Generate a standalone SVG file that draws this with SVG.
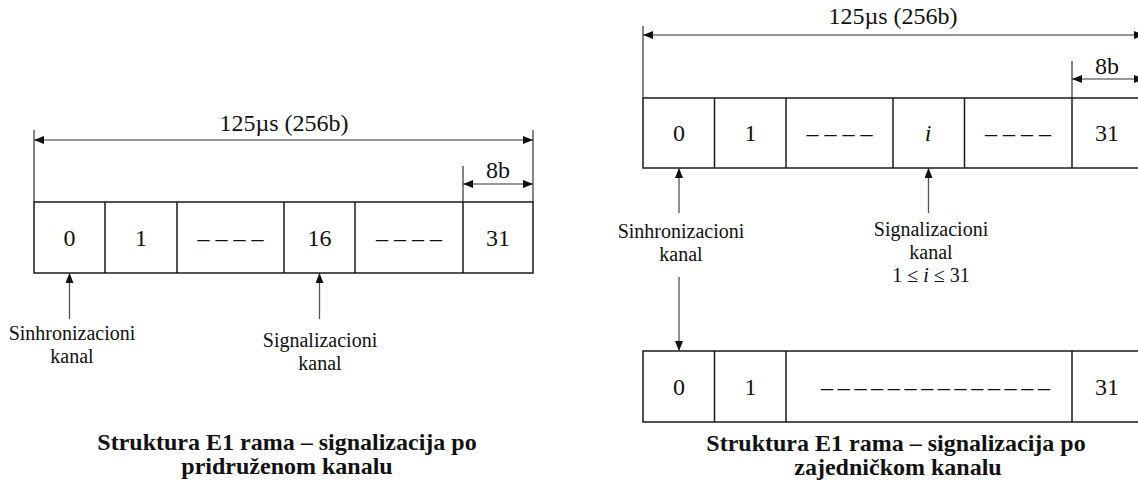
<svg xmlns="http://www.w3.org/2000/svg" width="1138" height="489" viewBox="0 0 1138 489">
  <style>
    .frame { fill: #fff; stroke: #1a1a1a; stroke-width: 1.5; }
    .cell { stroke: #1a1a1a; stroke-width: 1.5; }
    .dim { stroke: #333; stroke-width: 1.2; fill: none; }
    .ptr { stroke: #555; stroke-width: 1.3; fill: none; }
    .num { font-family: "Liberation Serif", "Times New Roman", "DejaVu Serif", serif; font-size: 24px; fill: #111; text-anchor: middle; }
    .lbl { font-family: "Liberation Serif", "Times New Roman", "DejaVu Serif", serif; font-size: 20px; fill: #111; text-anchor: middle; }
    .ttl { font-family: "Liberation Serif", "Times New Roman", "DejaVu Serif", serif; font-size: 24px; font-weight: bold; fill: #111; text-anchor: middle; }
    .it { font-style: italic; }
  </style>
  <defs>
    <marker id="ah" viewBox="0 0 10 8" refX="10" refY="4" markerWidth="10" markerHeight="8" markerUnits="userSpaceOnUse" orient="auto-start-reverse">
      <path d="M0,0 L10,4 L0,8 Z" fill="#111"/>
    </marker>
  </defs>

  <!-- Left: E1 frame with channel-associated signalling -->
  <g id="left-dimensions">
    <line class="dim" x1="34" y1="130" x2="34" y2="202"/>
    <line class="dim" x1="533" y1="130" x2="533" y2="202"/>
    <line class="dim" x1="34" y1="140" x2="533" y2="140" marker-start="url(#ah)" marker-end="url(#ah)"/>
    <text class="num" x="284" y="131">125µs (256b)</text>
    <line class="dim" x1="463" y1="166" x2="463" y2="202"/>
    <line class="dim" x1="463" y1="184" x2="533" y2="184" marker-start="url(#ah)" marker-end="url(#ah)"/>
    <text class="num" x="498" y="178">8b</text>
  </g>

  <g id="left-frame">
    <rect class="frame" x="34" y="202" width="499" height="71"/>
    <line class="cell" x1="105" y1="202" x2="105" y2="273"/>
    <line class="cell" x1="177" y1="202" x2="177" y2="273"/>
    <line class="cell" x1="284" y1="202" x2="284" y2="273"/>
    <line class="cell" x1="355" y1="202" x2="355" y2="273"/>
    <line class="cell" x1="463" y1="202" x2="463" y2="273"/>
    <text class="num" x="69.5" y="246">0</text>
    <text class="num" x="141" y="246">1</text>
    <text class="num" x="230.5" y="246">– – – –</text>
    <text class="num" x="319.5" y="246">16</text>
    <text class="num" x="409" y="246">– – – –</text>
    <text class="num" x="498" y="246">31</text>
  </g>

  <g id="left-sync-label">
    <text class="lbl" x="72" y="340">Sinhronizacioni</text>
    <text class="lbl" x="72" y="363">kanal</text>
  </g>
  <g id="left-signal-label">
    <text class="lbl" x="320" y="347">Signalizacioni</text>
    <text class="lbl" x="320" y="370">kanal</text>
  </g>

  <g id="left-title">
    <text class="ttl" x="287" y="450">Struktura E1 rama – signalizacija po</text>
    <text class="ttl" x="287" y="474">pridruženom kanalu</text>
  </g>

  <!-- Right: E1 frame with common-channel signalling -->
  <g id="right-dimensions">
    <line class="dim" x1="643" y1="26" x2="643" y2="98"/>
    <line class="dim" x1="643" y1="35" x2="1144" y2="35" marker-start="url(#ah)" marker-end="url(#ah)"/>
    <text class="num" x="893" y="24">125µs (256b)</text>
    <line class="dim" x1="1072" y1="61" x2="1072" y2="98"/>
    <line class="dim" x1="1072" y1="79" x2="1144" y2="79" marker-start="url(#ah)" marker-end="url(#ah)"/>
    <text class="num" x="1107" y="74">8b</text>
  </g>

  <g id="right-frame">
    <rect class="frame" x="643" y="98" width="500" height="70"/>
    <line class="cell" x1="714.5" y1="98" x2="714.5" y2="168"/>
    <line class="cell" x1="786" y1="98" x2="786" y2="168"/>
    <line class="cell" x1="893" y1="98" x2="893" y2="168"/>
    <line class="cell" x1="964.5" y1="98" x2="964.5" y2="168"/>
    <line class="cell" x1="1072" y1="98" x2="1072" y2="168"/>
    <text class="num" x="679" y="141">0</text>
    <text class="num" x="750.5" y="141">1</text>
    <text class="num" x="839.5" y="141">– – – –</text>
    <text class="num it" x="928" y="141">i</text>
    <text class="num" x="1018" y="141">– – – –</text>
    <text class="num" x="1107" y="141">31</text>
  </g>

  <g id="right-sync-label">
    <text class="lbl" x="681" y="238">Sinhronizacioni</text>
    <text class="lbl" x="681" y="261">kanal</text>
  </g>
  <g id="right-signal-label">
    <text class="lbl" x="931" y="236">Signalizacioni</text>
    <text class="lbl" x="931" y="259">kanal</text>
    <text class="lbl" x="931" y="282">1 ≤ <tspan class="it">i</tspan> ≤ 31</text>
  </g>

  <g id="signalling-frame">
    <rect class="frame" x="643" y="351" width="500" height="71"/>
    <line class="cell" x1="714.5" y1="351" x2="714.5" y2="422"/>
    <line class="cell" x1="786" y1="351" x2="786" y2="422"/>
    <line class="cell" x1="1072" y1="351" x2="1072" y2="422"/>
    <text class="num" x="679" y="395">0</text>
    <text class="num" x="750.5" y="395">1</text>
    <text class="num" x="935.5" y="395" textLength="229" lengthAdjust="spacing">– – – – – – – – – – – – – –</text>
    <text class="num" x="1107" y="395">31</text>
  </g>

  <g id="right-title">
    <text class="ttl" x="896" y="451">Struktura E1 rama – signalizacija po</text>
    <text class="ttl" x="898" y="475">zajedničkom kanalu</text>
  </g>

  <g id="connectors">
    <line class="ptr" x1="69.5" y1="319" x2="69.5" y2="273" marker-end="url(#ah)"/>
    <line class="ptr" x1="319.5" y1="319" x2="319.5" y2="273" marker-end="url(#ah)"/>
    <line class="ptr" x1="679" y1="213" x2="679" y2="168" marker-end="url(#ah)"/>
    <line class="ptr" x1="928.5" y1="213" x2="928.5" y2="168" marker-end="url(#ah)"/>
    <line class="ptr" x1="679" y1="277" x2="679" y2="351" marker-end="url(#ah)"/>
  </g>
</svg>
